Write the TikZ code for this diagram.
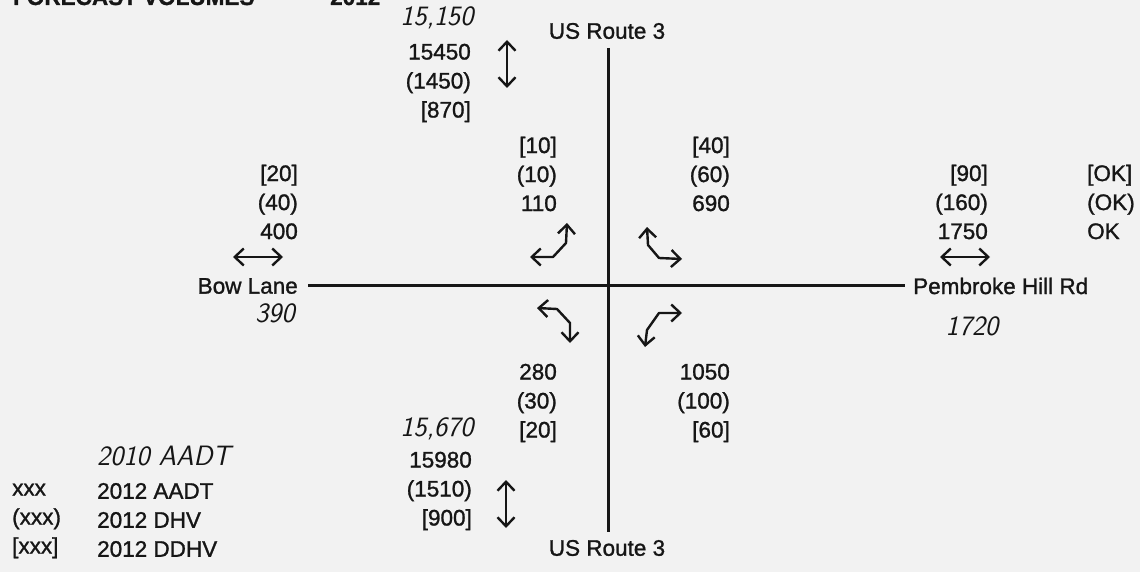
\documentclass[tikz,border=0pt]{standalone}
\usepackage{fontspec}
\setmainfont{Liberation Sans}[FakeBold=1.2]
\usetikzlibrary{arrows.meta}
\definecolor{paper}{RGB}{242,242,242}
\definecolor{ink}{RGB}{22,22,22}
\tikzset{
  vol/.style={inner sep=0pt, align=right, anchor=east, text=ink,
    font=\fontsize{22.5}{29}\selectfont},
  volleft/.style={vol, align=left, anchor=west},
  streetname/.style={inner sep=0pt, text=ink, font=\fontsize{22.5}{27}\selectfont},
  hand/.style={inner sep=0pt, text=ink, font=\fontsize{28}{30}\selectfont\sffamily\itshape},
  road/.style={line width=3pt, draw=ink},
  turn/.style={line width=2.4pt, draw=ink, line join=round, line cap=round,
    >={Straight Barb[length=9pt,width=17pt]}, <->},
}
\begin{document}
\begin{tikzpicture}[x=1pt,y=-1pt]
  \useasboundingbox[fill=paper] (0,0) rectangle (1140,572);

  % title line
  \node[streetname, anchor=base west, font=\fontsize{22.5}{27}\selectfont\bfseries] (title) at (13,5) {FORECAST VOLUMES};
  \node[streetname, anchor=base west, font=\fontsize{22.5}{27}\selectfont\bfseries] (year) at (330,5) {2012};

  % street names
  \node[streetname] (usN) at (607,31) {US Route 3};
  \node[streetname] (usS) at (607,548) {US Route 3};
  \node[streetname, anchor=east] (bow) at (298,286) {Bow Lane};
  \node[streetname, anchor=west] (pem) at (913,286) {Pembroke Hill Rd};

  % roads
  \coordinate (nEnd) at (608,48);
  \coordinate (sEnd) at (608,532);
  \coordinate (wEnd) at (308,285);
  \coordinate (eEnd) at (905,285);
  \draw[road] (nEnd) -- (sEnd);
  \draw[road] (wEnd) -- (eEnd);

  % north leg
  \node[hand] (aadtN) at (437,18) {15,150};
  \node[vol] (volN) at (471,83) {15450\\(1450)\\{[870]}};
  \coordinate (nA) at (507,40);
  \coordinate (nB) at (507,88);
  \draw[turn] (nA) -- (nB);

  % south leg
  \node[hand] (aadtS) at (437,429) {15,670};
  \node[vol] (volS) at (472,491) {15980\\(1510)\\{[900]}};
  \coordinate (sA) at (506,480);
  \coordinate (sB) at (506,528);
  \draw[turn] (sA) -- (sB);

  % west leg
  \node[vol] (volW) at (298,202) {[20]\\(40)\\400};
  \coordinate (wA) at (233,257);
  \coordinate (wB) at (283,257);
  \draw[turn] (wA) -- (wB);
  \node[hand] (aadtW) at (275,313) {390};

  % east leg
  \node[vol] (volE) at (988,202) {[90]\\(160)\\1750};
  \node[volleft] (chkE) at (1087,202) {[OK]\\(OK)\\OK};
  \coordinate (eA) at (940,257);
  \coordinate (eB) at (990,257);
  \draw[turn] (eA) -- (eB);
  \node[hand] (aadtE) at (972,326) {1720};

  % turning movements
  \node[vol] (volNW) at (557,174) {[10]\\(10)\\110};
  \node[vol] (volNE) at (730,174) {[40]\\(60)\\690};
  \node[vol] (volSW) at (557,403) {280\\(30)\\{[20]}};
  \node[vol] (volSE) at (730,403) {1050\\(100)\\{[60]}};

  \draw[turn] (530,257) -- (553,257) -- (566,243) -- (567,223);
  \draw[turn] (647,227) -- (648,245) -- (659,258) -- (682,259);
  \draw[turn] (537,308) -- (557,309) -- (570,323) -- (570,343);
  \draw[turn] (645,347) -- (647,330) -- (659,313) -- (682,313);

  % legend
  \node[hand, anchor=west] (legHand) at (97,456) {2010 AADT};
  \node[volleft] (legKey) at (12,521) {xxx\\(xxx)\\{[xxx]}};
  \node[volleft] (legText) at (97,520) {2012 AADT\\2012 DHV\\2012 DDHV};
\end{tikzpicture}
\end{document}
